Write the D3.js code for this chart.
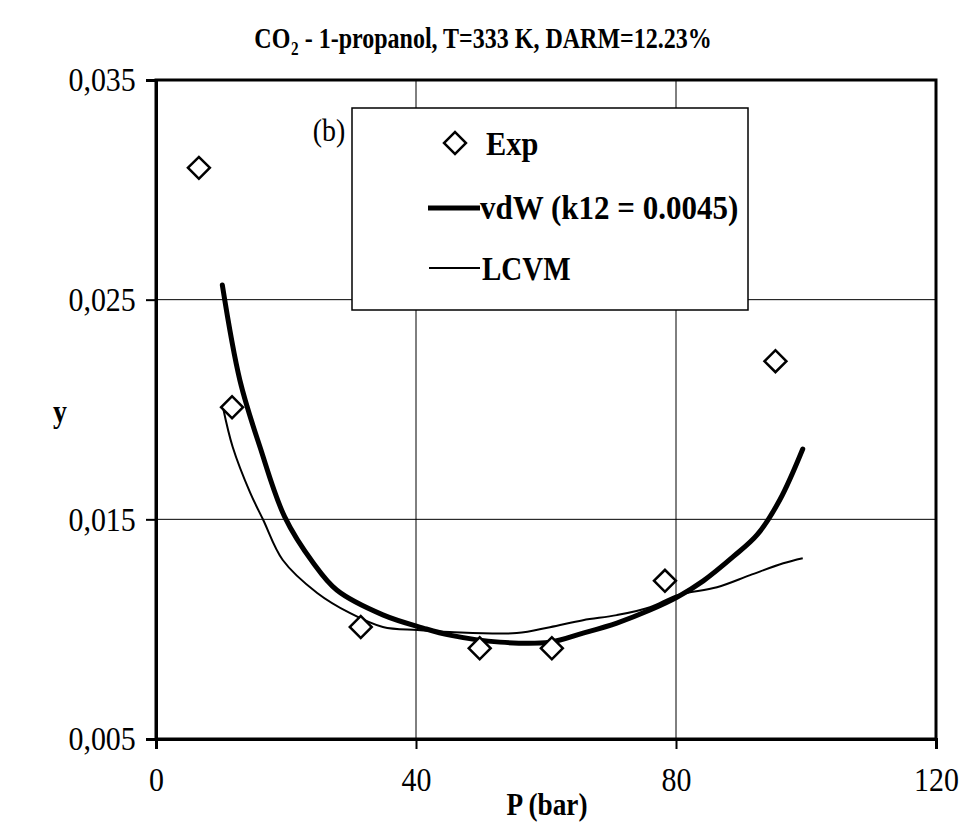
<!DOCTYPE html>
<html>
<head>
<meta charset="utf-8">
<script src="https://cdn.jsdelivr.net/npm/d3@7"></script>
<style>
  body { margin: 0; background: #fff; }
  svg text { font-family: "Liberation Serif", "Times New Roman", serif; fill: #000; }
</style>
</head>
<body>
<svg id="chart" width="961" height="833"></svg>
<script>
// experimental points
const expP = [6.6, 11.7, 31.5, 49.8, 60.9, 78.3, 95.3]
const expY = [0.0310, 0.0201, 0.0101, 0.00913, 0.00913, 0.0122, 0.0222]

// vdW (k12 = 0.0045) curve
const vdwP = [10.2, 12.9, 16.0, 19.8, 24.2, 27.8, 34.9, 41.1, 45.2, 52.9, 60.6, 65.7, 70.9, 76.0, 80.2, 84.2, 88.8, 92.5, 96.0, 99.5]
const vdwY = [0.02567, 0.02134, 0.01829, 0.01511, 0.01301, 0.01178, 0.01065, 0.01005, 0.00973, 0.00941, 0.00941, 0.00982, 0.01028, 0.01087, 0.01146, 0.0122, 0.0133, 0.0143, 0.0159, 0.0182]

// LCVM curve
const lcvmP = [10.3, 11.8, 14.5, 16.5, 19.5, 24.8, 29.8, 34.9, 40.2, 45.2, 55.5, 60.6, 65.7, 70.9, 76.0, 80.2, 86.3, 91.4, 96.5, 99.5]
const lcvmY = [0.0201, 0.01829, 0.01620, 0.01497, 0.01315, 0.01165, 0.01074, 0.01010, 0.00996, 0.00987, 0.00982, 0.01009, 0.01041, 0.01064, 0.01100, 0.01155, 0.01191, 0.01246, 0.01300, 0.01323]

const xTicks = [0, 40, 80, 120]
const yTicks = [0.005, 0.015, 0.025, 0.035]

const svg = d3.select("#chart")
const x = d3.scaleLinear().domain([0, 120]).range([156, 936])
const y = d3.scaleLinear().domain([0.005, 0.035]).range([739, 80])

// gridlines
svg.selectAll(".hgrid")
  .data(yTicks.slice(1, 3))
  .enter()
  .append("line")
  .attr("x1", x(0)).attr("x2", x(120))
  .attr("y1", (d) => y(d)).attr("y2", (d) => y(d))
  .attr("stroke", "#000").attr("stroke-width", 1)
svg.selectAll(".vgrid")
  .data(xTicks.slice(1, 3))
  .enter()
  .append("line")
  .attr("x1", (d) => x(d)).attr("x2", (d) => x(d))
  .attr("y1", y(0.005)).attr("y2", y(0.035))
  .attr("stroke", "#000").attr("stroke-width", 1)

// frame
svg.append("rect")
  .attr("x", x(0)).attr("y", y(0.035))
  .attr("width", x(120) - x(0)).attr("height", y(0.005) - y(0.035))
  .attr("fill", "none").attr("stroke", "#000").attr("stroke-width", 3)

// axes
const yAxis = svg.append("g")
  .attr("transform", `translate(${x(0)},0)`)
  .call(d3.axisLeft(y).tickValues(yTicks).tickSize(10).tickPadding(13)
    .tickFormat((d) => d3.format(".3f")(d).replace(".", ",")))
const xAxis = svg.append("g")
  .attr("transform", `translate(0,${y(0.005)})`)
  .call(d3.axisBottom(x).tickValues(xTicks).tickSize(10).tickPadding(18))
;[yAxis, xAxis].forEach((g) => {
  g.select(".domain").attr("stroke-width", 3)
  g.selectAll(".tick line").attr("stroke-width", 2)
  g.selectAll(".tick text").style("font-size", "34px")
    .style("font-family", "'Liberation Serif', serif")
    .attr("transform", "scale(0.88,1)")
})

// legend box (drawn before curves, white fill hides grid)
svg.append("rect")
  .attr("x", 352).attr("y", 108).attr("width", 396).attr("height", 202)
  .attr("fill", "#fff").attr("stroke", "#000").attr("stroke-width", 1.5)

// curves
const line = d3.line().curve(d3.curveCatmullRom.alpha(0.5))
  .x((d) => x(d[0])).y((d) => y(d[1]))
svg.append("path")
  .datum(lcvmP.map((p, i) => [p, lcvmY[i]]))
  .attr("d", line)
  .attr("fill", "none").attr("stroke", "#000").attr("stroke-width", 2)
svg.append("path")
  .datum(vdwP.map((p, i) => [p, vdwY[i]]))
  .attr("d", line)
  .attr("fill", "none").attr("stroke", "#000").attr("stroke-width", 5)
  .attr("stroke-linecap", "round")

// experimental diamonds
const diamond = d3.symbol().type(d3.symbolSquare).size(240)
svg.selectAll(".exp")
  .data(expP.map((p, i) => [p, expY[i]]))
  .enter()
  .append("path")
  .attr("d", diamond)
  .attr("transform", (d) => `translate(${x(d[0])},${y(d[1])}) rotate(45)`)
  .attr("fill", "#fff").attr("stroke", "#000").attr("stroke-width", 2.5)

// condensed text helper (the scanned original uses a narrow serif)
const label = (px, py, str, size, bold, anchor, sx) => svg.append("g")
  .attr("transform", `translate(${px},${py}) scale(${sx},1)`)
  .append("text").attr("text-anchor", anchor)
  .style("font-size", size + "px").style("font-weight", bold ? "bold" : "normal")
  .text(str)

// legend entries
svg.append("path")
  .attr("d", diamond)
  .attr("transform", "translate(455,143) rotate(45)")
  .attr("fill", "#fff").attr("stroke", "#000").attr("stroke-width", 2.5)
label(486, 155, "Exp", 33, true, "start", 0.92)
svg.append("line").attr("x1", 428).attr("x2", 480).attr("y1", 208).attr("y2", 208)
  .attr("stroke", "#000").attr("stroke-width", 5)
label(480, 219, "vdW (k12 = 0.0045)", 33, true, "start", 0.94)
svg.append("line").attr("x1", 429).attr("x2", 480).attr("y1", 268).attr("y2", 268)
  .attr("stroke", "#000").attr("stroke-width", 2)
label(482, 280, "LCVM", 33, true, "start", 0.88)

label(329, 141, "(b)", 31, false, "middle", 0.9)

// title
const title = svg.append("g").attr("transform", "translate(483,48) scale(0.8,1)")
  .append("text").attr("text-anchor", "middle")
  .style("font-size", "30px").style("font-weight", "bold")
title.append("tspan").text("CO")
title.append("tspan").attr("dy", 7).attr("dx", 1).style("font-size", "19px").text("2")
title.append("tspan").attr("dy", -7).text(" - 1-propanol, T=333 K, DARM=12.23%")

// axis titles
label(547, 815, "P (bar)", 31, true, "middle", 0.88)
label(60, 422, "y", 31, true, "middle", 0.9)
</script>
</body>
</html>
